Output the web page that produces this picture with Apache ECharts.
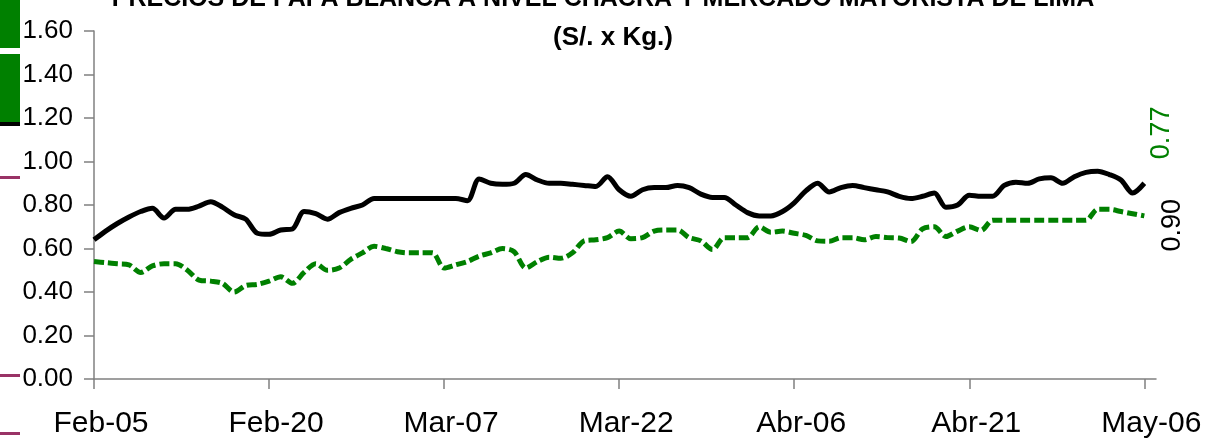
<!DOCTYPE html>
<html>
<head>
<meta charset="utf-8">
<script src="https://cdn.jsdelivr.net/npm/echarts@6/dist/echarts.min.js"></script>
<style>
  html,body{margin:0;padding:0;background:#fff;}
  #chart{width:1226px;height:443px;}
</style>
</head>
<body>
<div id="chart"></div>
<script>
// categories: daily, Feb-05 .. May-07 (axis runs one day past the last label)
var monthNames = ['Ene','Feb','Mar','Abr','May','Jun','Jul','Ago','Set','Oct','Nov','Dic'];
var startDate = new Date(2006, 1, 5);
var dayCount = 92;
var days = [];
for (var i = 0; i < dayCount; i++) {
  var d = new Date(startDate.getTime() + i * 86400000);
  var dd = d.getDate();
  days.push(monthNames[d.getMonth()] + '-' + (dd < 10 ? '0' + dd : dd));
}
var labelStep = 15;

// precio mayorista (black) S/. x Kg
var mayorista = [
  0.64,0.68,0.715,0.745,0.77,0.785,0.74,0.78,0.78,0.795,
  0.815,0.79,0.755,0.735,0.67,0.665,0.685,0.69,0.77,0.76,
  0.735,0.765,0.785,0.80,0.83,0.83,0.83,0.83,0.83,0.83,
  0.83,0.83,0.82,0.92,0.90,0.895,0.90,0.94,0.915,0.90,
  0.90,0.895,0.89,0.885,0.93,0.87,0.84,0.87,0.88,0.88,
  0.89,0.88,0.85,0.835,0.835,0.80,0.765,0.75,0.75,0.77,
  0.81,0.865,0.90,0.86,0.88,0.89,0.88,0.87,0.86,0.84,
  0.83,0.84,0.855,0.79,0.80,0.845,0.84,0.84,0.89,0.905,
  0.90,0.92,0.925,0.90,0.93,0.95,0.955,0.94,0.915,0.855,
  0.90
];
// precio chacra (green dashed)
var chacra = [
  0.54,0.535,0.53,0.525,0.49,0.52,0.53,0.53,0.50,0.455,
  0.45,0.44,0.40,0.43,0.435,0.45,0.47,0.44,0.49,0.53,
  0.50,0.51,0.55,0.58,0.61,0.60,0.585,0.58,0.58,0.58,
  0.51,0.525,0.54,0.565,0.58,0.60,0.585,0.51,0.54,0.56,
  0.555,0.58,0.635,0.64,0.65,0.68,0.645,0.65,0.68,0.685,
  0.685,0.65,0.635,0.595,0.65,0.65,0.65,0.70,0.675,0.68,
  0.67,0.66,0.635,0.633,0.65,0.65,0.64,0.655,0.65,0.648,
  0.632,0.69,0.70,0.655,0.68,0.70,0.683,0.73,0.73,0.73,
  0.73,0.73,0.73,0.73,0.73,0.73,0.78,0.78,0.77,0.76,
  0.75
];
var endLabels = ['0.90', '0.77'];
var yTicks = {min: 0, max: 1.6, step: 0.2};

var font = '"Liberation Sans Narrow", "Liberation Sans", Arial, sans-serif';
var chart = echarts.init(document.getElementById('chart'));

var legendBits = [
  // clipped legend fragments at the left edge
  {type: 'rect', shape: {x: 0, y: 0, width: 20, height: 48}, style: {fill: '#008000'}},
  {type: 'rect', shape: {x: 0, y: 54, width: 20, height: 68}, style: {fill: '#008000'}},
  {type: 'rect', shape: {x: 0, y: 122, width: 20, height: 4}, style: {fill: '#000'}},
  {type: 'rect', shape: {x: 0, y: 176, width: 20, height: 3}, style: {fill: '#993366'}},
  {type: 'rect', shape: {x: 0, y: 374, width: 20, height: 3}, style: {fill: '#993366'}},
  {type: 'rect', shape: {x: 0, y: 432, width: 20, height: 3}, style: {fill: '#993366'}}
];

var option = {
  backgroundColor: '#fff',
  animation: false,
  title: [
    {
      text: 'PRECIOS DE PAPA BLANCA A NIVEL CHACRA Y MERCADO MAYORISTA DE LIMA',
      left: 598, top: -18, textAlign: 'center',
      textStyle: {fontFamily: font, fontWeight: 'bold', fontSize: 25, color: '#000'}
    },
    {
      text: '(S/. x Kg.)',
      left: 608, top: 20, textAlign: 'center',
      textStyle: {fontFamily: font, fontWeight: 'bold', fontSize: 26, color: '#000'}
    }
  ],
  grid: {left: 94, right: 70, top: 31, bottom: 64},
  xAxis: {
    type: 'category',
    data: days,
    boundaryGap: false,
    axisLine: {lineStyle: {color: '#808080', width: 1.5}},
    axisTick: {
      length: 10,
      lineStyle: {color: '#808080', width: 1.5},
      interval: function (idx) { return idx % labelStep === 0; }
    },
    axisLabel: {
      interval: function (idx) { return idx % labelStep === 0; },
      fontFamily: font, fontSize: 30, color: '#000', margin: 30,
      padding: [0, 0, 0, 14]
    },
    splitLine: {show: false}
  },
  yAxis: {
    type: 'value',
    min: yTicks.min, max: yTicks.max, interval: yTicks.step,
    axisLine: {show: true, lineStyle: {color: '#808080', width: 1.5}},
    axisTick: {show: true, length: 10, lineStyle: {color: '#808080', width: 1.5}},
    axisLabel: {
      fontFamily: font, fontSize: 26, color: '#000', margin: 21,
      formatter: function (v) { return v.toFixed(2); }
    },
    splitLine: {show: false}
  },
  series: [
    {
      name: 'Mayorista',
      type: 'line',
      data: mayorista,
      smooth: 0.3,
      showSymbol: false,
      lineStyle: {color: '#000', width: 5},
      itemStyle: {color: '#000'}
    },
    {
      name: 'Chacra',
      type: 'line',
      data: chacra,
      smooth: 0.3,
      showSymbol: false,
      lineStyle: {color: '#008000', width: 5, type: [10, 4], cap: 'butt'},
      itemStyle: {color: '#008000'}
    }
  ],
  graphic: legendBits
};
chart.setOption(option);

// rotated value labels next to the last points
var lastB = mayorista.length - 1;
var lastG = chacra.length - 1;
var pBlack = chart.convertToPixel({gridIndex: 0}, [lastB, mayorista[lastB]]);
var pGreen = chart.convertToPixel({gridIndex: 0}, [lastG, chacra[lastG]]);
chart.setOption({
  graphic: legendBits.concat([
    {
      type: 'text', x: pBlack[0] + 28, y: pBlack[1] + 42, rotation: Math.PI / 2,
      style: {text: endLabels[0], fill: '#000', font: '27px ' + font, align: 'center', verticalAlign: 'middle'}
    },
    {
      type: 'text', x: pGreen[0] + 17, y: pGreen[1] - 83, rotation: Math.PI / 2,
      style: {text: endLabels[1], fill: '#008000', font: '27px ' + font, align: 'center', verticalAlign: 'middle'}
    }
  ])
}, {replaceMerge: ['graphic']});
</script>
</body>
</html>
